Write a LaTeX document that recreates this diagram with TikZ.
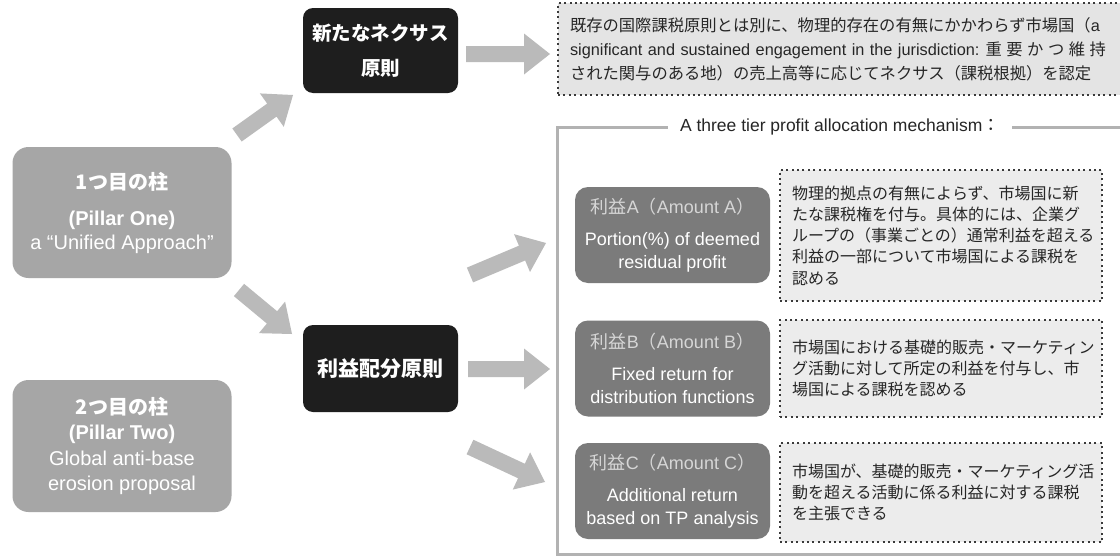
\documentclass[tikz,border=0pt]{standalone}
\usepackage{fontspec}
\setmainfont{Liberation Sans}
\newfontfamily\jp{Noto Sans CJK JP}
\usetikzlibrary{calc}

\definecolor{pillargray}{HTML}{A6A6A6}
\definecolor{darkbox}{HTML}{1E1E1E}
\definecolor{arrowgray}{HTML}{BABABA}
\definecolor{amountgray}{HTML}{7B7B7B}
\definecolor{amountlabel}{HTML}{D6D6D6}
\definecolor{notefill}{HTML}{ECECEC}
\definecolor{topfill}{HTML}{E4E4E4}
\definecolor{dotline}{HTML}{3A3A3A}
\definecolor{framegray}{HTML}{B2B2B2}
\definecolor{bodytext}{HTML}{262626}

% Japanese run inside Latin text
\newcommand\jtxt[1]{{\jp #1}}

% wide gray block arrow from #1 to #2
\newcommand\blockarrow[2]{%
  \coordinate (hb) at ($(#2)!26pt!(#1)$);
  \fill[arrowgray] ($(#1)!8pt!90:(#2)$) -- ($(hb)!8pt!90:(#2)$)
    -- ($(hb)!20.5pt!90:(#2)$) -- (#2) -- ($(hb)!20.5pt!-90:(#2)$)
    -- ($(hb)!8pt!-90:(#2)$) -- ($(#1)!8pt!-90:(#2)$) -- cycle;
}

\tikzset{
  pillar/.style={fill=pillargray, rounded corners=16pt, text=white, align=center,
    inner sep=0pt, font=\fontsize{20}{24}\selectfont},
  keybox/.style={fill=darkbox, rounded corners=10pt, text=white, align=center,
    inner sep=0pt, font=\jp\bfseries\fontsize{19.5}{24}\selectfont},
  amount/.style={fill=amountgray, rounded corners=13pt, text=white, align=center,
    inner sep=0pt, minimum width=195pt, minimum height=96pt,
    font=\fontsize{18}{23}\selectfont},
  note/.style={fill=notefill, draw=dotline, line width=2pt,
    dash pattern=on 2pt off 3.4pt, text=bodytext, align=left,
    inner xsep=12pt, inner ysep=0pt, text width=298pt,
    font=\jp\fontsize{16}{21.25}\selectfont},
  tierframe/.style={draw=framegray, line width=3pt, inner sep=0pt},
}

\begin{document}
\begin{tikzpicture}[x=1pt,y=-1pt]
\clip (0,0) rectangle (1120,557);
\fill[white] (0,0) rectangle (1120,557);

% pillars
\node[pillar, minimum width=219pt, minimum height=131pt] (pone) at (122,212.5)
  {\jtxt{\bfseries 1つ目の柱}\\[12pt]\textbf{(Pillar One)}\\a “Unified Approach”};
\node[pillar, minimum width=219pt, minimum height=132pt,
  font=\fontsize{20}{25.5}\selectfont] (ptwo) at (122,446)
  {\jtxt{\bfseries 2つ目の柱}\\\textbf{(Pillar Two)}\\Global anti-base\\erosion proposal};

% principles
\node[keybox, minimum width=155pt, minimum height=85pt] (nexus) at (380.5,50.5)
  {新たなネクサス\\[11pt]原則};
\node[keybox, minimum width=155pt, minimum height=87pt,
  font=\jp\bfseries\fontsize{21}{24}\selectfont] (alloc) at (380.5,368.5)
  {利益配分原則};

% nexus note
\node[note, minimum height=92pt, text width=547pt, fill=topfill,
  font=\jp\fontsize{16.3}{24}\selectfont] (nexusnote) at (843.5,49)
  {既存の国際課税原則とは別に、物理的存在の有無にかかわらず市場国（{\rmfamily a}\\
   \leavevmode\hbox to 536pt{{\rmfamily significant and sustained engagement in the jurisdiction:}\hskip 6pt
     重\hfill 要\hfill か\hfill つ\hfill 維\hfill 持}\\
   された関与のある地）の売上高等に応じてネクサス（課税根拠）を認定};

% three tier frame
\node[tierframe, minimum width=573pt, minimum height=427pt] (frame) at (843.5,340.5) {};
\node[fill=white, inner xsep=12pt, inner ysep=2pt, text=bodytext,
  font=\fontsize{17.5}{20}\selectfont] (tiertitle) at (840,127)
  {A three tier profit allocation mechanism\jtxt{：}};

% amounts
\node[amount] (amtA) at (672.5,235)
  {{\color{amountlabel}\jtxt{利益}A\jtxt{（}Amount A\jtxt{）}}\\[9pt]Portion(\%) of deemed\\residual profit};
\node[amount] (amtB) at (672.5,368.5)
  {{\color{amountlabel}\jtxt{利益}B\jtxt{（}Amount B\jtxt{）}}\\[9pt]Fixed return for\\distribution functions};
\node[amount] (amtC) at (672.5,491)
  {{\color{amountlabel}\jtxt{利益}C\jtxt{（}Amount C\jtxt{）}}\\[9pt]Additional return\\based on TP analysis};

% amount notes
\node[note, minimum height=131pt] (noteA) at (941,235.5)
  {物理的拠点の有無によらず、市場国に新\\
   たな課税権を付与。具体的には、企業グ\\
   ループの（事業ごとの）通常利益を超える\\
   利益の一部について市場国による課税を\\
   認める};
\node[note, minimum height=97pt] (noteB) at (941,368.5)
  {市場国における基礎的販売・マーケティン\\
   グ活動に対して所定の利益を付与し、市\\
   場国による課税を認める};
\node[note, minimum height=99pt] (noteC) at (941,492.5)
  {市場国が、基礎的販売・マーケティング活\\
   動を超える活動に係る利益に対する課税\\
   を主張できる};

% arrow ends
\coordinate (upS) at (237,135);   \coordinate (upE) at (293,95);
\coordinate (downS) at (239,290); \coordinate (downE) at (292,334);
\coordinate (nxS) at (466,54);    \coordinate (nxE) at (550,54);
\coordinate (alS) at (468,369);   \coordinate (alE) at (550,369);
\coordinate (taS) at (470,275);   \coordinate (taE) at (546,243);
\coordinate (tcS) at (470,447);   \coordinate (tcE) at (545,482);

\blockarrow{upS}{upE}
\blockarrow{downS}{downE}
\blockarrow{nxS}{nxE}
\blockarrow{alS}{alE}
\blockarrow{taS}{taE}
\blockarrow{tcS}{tcE}
\end{tikzpicture}
\end{document}
